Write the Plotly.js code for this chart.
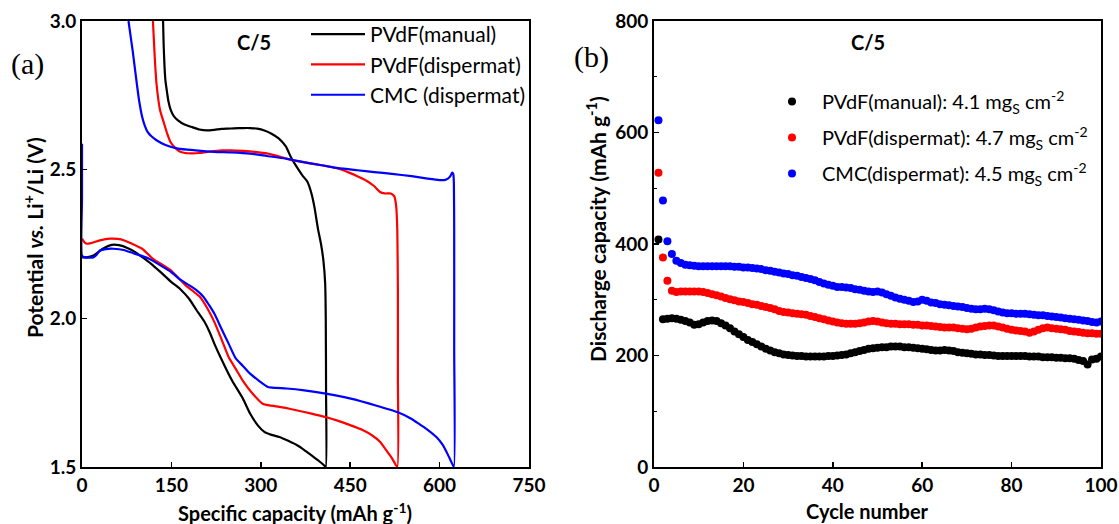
<!DOCTYPE html>
<html>
<head>
<meta charset="utf-8">
<script src="https://cdn.plot.ly/plotly-3.0.1.min.js"></script>
<style>
html,body{margin:0;padding:0;background:#fff;}
#chart{width:1119px;height:524px;}
</style>
</head>
<body>
<div id="chart"></div>
<script>
// ---------- Panel (a): voltage profiles ----------
const manualCap = [0,10,20,35,50,62,77,90,101,115,131,150,165,180,192,205,215,222,232,252,270,282,295,306,318,331,346,361,373,385,397,406,409,
  409.5,409,408,405,401,396,390,385,378,370,360,351,342,330,318,306,294,282,270,255,245,234,222,210,197,185,172,161,154,149,145,143,140,138.5,137,136];
const manualV = [2.205,2.206,2.212,2.234,2.247,2.246,2.236,2.222,2.206,2.185,2.157,2.122,2.098,2.065,2.028,1.99,1.95,1.915,1.871,1.79,1.73,1.68,1.64,1.618,1.608,1.601,1.588,1.573,1.557,1.539,1.521,1.506,1.5,
  1.75,2.0,2.117,2.195,2.25,2.3,2.374,2.42,2.46,2.48,2.51,2.54,2.578,2.605,2.621,2.632,2.638,2.640,2.640,2.639,2.638,2.637,2.634,2.632,2.635,2.643,2.652,2.666,2.68,2.70,2.73,2.756,2.8,2.845,2.92,3.0];

const dispCap = [0,4,8,15,30,47,60,71,85,101,119,135,150,174,186,198,210,222,234,246,258,270,285,303,315,331,350,373,390,409,430,451,470,487,500,511,520,529,
  530,530,529,527,524,518,508,500,490,478,462,448,432,418,402,380,354,330,312,290,270,250,234,215,197,185,173,163,155,148,143,137,131,125,122,119];
const dispV = [2.268,2.256,2.251,2.253,2.262,2.268,2.267,2.262,2.25,2.234,2.2,2.18,2.16,2.111,2.092,2.072,2.035,1.988,1.93,1.87,1.83,1.79,1.75,1.713,1.707,1.702,1.695,1.685,1.677,1.668,1.655,1.64,1.625,1.606,1.585,1.555,1.53,1.5,
  1.8,2.1,2.3,2.38,2.41,2.42,2.42,2.425,2.445,2.462,2.478,2.49,2.502,2.509,2.515,2.522,2.531,2.545,2.554,2.56,2.563,2.565,2.565,2.561,2.556,2.555,2.556,2.562,2.576,2.595,2.621,2.66,2.70,2.789,2.88,3.0];

const cmcCap = [0,0,0,5,19,25,30,40,53,70,86,100,113,130,150,165,180,192,204,213,222,234,246,258,270,282,297,312,325,343,373,409,451,493,529,550,565,580,595,605,613,619,624,
  624.5,624.5,624,623,621,618,614,608,600,580,553,520,490,462,430,402,370,342,310,282,250,222,190,161,140,125,116,110,105,101,96,92,85,78];
const cmcV = [2.587,2.4,2.21,2.205,2.205,2.215,2.228,2.233,2.234,2.23,2.219,2.21,2.2,2.18,2.155,2.13,2.111,2.095,2.072,2.045,2.016,1.965,1.915,1.865,1.84,1.814,1.79,1.769,1.766,1.764,1.758,1.747,1.73,1.707,1.685,1.665,1.646,1.625,1.6,1.575,1.545,1.52,1.5,
  1.9,2.3,2.45,2.485,2.49,2.478,2.47,2.465,2.465,2.47,2.478,2.486,2.492,2.498,2.505,2.515,2.526,2.537,2.546,2.554,2.558,2.56,2.565,2.571,2.583,2.599,2.613,2.627,2.65,2.677,2.73,2.789,2.9,3.0];

const seriesNamesA = ['PVdF(manual)','PVdF(dispermat)','CMC (dispermat)'];

// ---------- Panel (b): cycling ----------
const cycles = [1,2,3,4,5,6,7,8,9,10,11,12,13,14,15,16,17,18,19,20,21,22,23,24,25,26,27,28,29,30,31,32,33,34,35,36,37,38,39,40,41,42,43,44,45,46,47,48,49,50,
  51,52,53,54,55,56,57,58,59,60,61,62,63,64,65,66,67,68,69,70,71,72,73,74,75,76,77,78,79,80,81,82,83,84,85,86,87,88,89,90,91,92,93,94,95,96,97,98,99,100];
const manualQ = [408,265,266,267,266,264,262,259,255,256,259,262,263,262,258,254,249,243,238,233,228,224,220,216,212,209,206,204,202,201,200,199,199,198,198,198,198,198,199,199,
  200,201,202,204,206,208,210,212,213,214,215,215,216,216,216,215,215,214,213,212,211,210,209,209,210,209,208,206,205,204,203,202,202,201,201,200,199,199,199,199,
  199,199,199,198,198,198,197,197,197,196,196,195,195,194,192,190,184,193,194,198];
const dispQ = [528,376,334,316,314,315,315,315,315,315,314,312,310,308,306,303,301,299,297,296,294,292,291,289,287,285,283,280,278,277,276,275,274,273,271,269,267,265,263,261,
  259,258,257,257,257,258,259,261,262,261,259,258,257,257,256,256,256,255,255,254,254,253,252,251,250,250,250,249,248,247,248,250,252,253,254,254,252,250,248,246,
  245,244,243,241,243,246,249,250,249,248,247,246,244,243,242,241,240,240,239,239];
const cmcQ = [622,478,405,382,370,366,363,362,361,360,360,360,360,360,360,360,360,359,359,358,358,357,356,355,353,352,350,349,347,346,344,343,341,339,337,335,332,329,327,325,
  323,323,322,321,319,318,316,315,314,315,313,310,307,304,302,300,298,296,297,300,298,295,294,292,291,290,289,288,287,285,284,283,283,284,283,281,279,277,276,276,
  275,275,275,274,273,272,272,271,270,269,268,267,266,265,264,263,262,260,259,261];
const seriesNamesB = ['PVdF(manual): 4.1 mg<sub>S</sub> cm<sup>-2</sup>',
                      'PVdF(dispermat): 4.7 mg<sub>S</sub> cm<sup>-2</sup>',
                      'CMC(dispermat): 4.5 mg<sub>S</sub> cm<sup>-2</sup>'];

const tickLabelsA_x = ['0','150','300','450','600','750'];
const tickLabelsA_y = ['1.5','2.0','2.5','3.0'];
const tickLabelsB_x = ['0','20','40','60','80','100'];
const tickLabelsB_y = ['0','200','400','600','800'];

const colors = ['#000000','#ff0000','#0000ff'];

const W = 1119, H = 524;
const px = v => v / W;
const py = v => 1 - v / H;

const FONT = 'Lato, "Open Sans", sans-serif';
const tickFont = {family: FONT, size: 19, color: '#000'};
const bold = arr => arr.map(s => '<b>' + s + '</b>');

const traces = [];
[[manualCap, manualV],[dispCap, dispV],[cmcCap, cmcV]].forEach((d,i) => {
  traces.push({x: d[0], y: d[1], type: 'scatter', mode: 'lines', name: seriesNamesA[i],
    line: {color: colors[i], width: 2.2, shape: 'spline', smoothing: 0.5},
    xaxis: 'x', yaxis: 'y', legend: 'legend', legendgroup: 'a'+i});
});
[manualQ, dispQ, cmcQ].forEach((q,i) => {
  traces.push({x: cycles, y: q, type: 'scatter', mode: 'markers', name: seriesNamesB[i],
    marker: {color: colors[i], size: 8, line: {width: 0}},
    xaxis: 'x2', yaxis: 'y2', legend: 'legend2', legendgroup: 'b'+i});
});

const axisCommon = {
  showline: true, linecolor: '#000', linewidth: 2, mirror: true,
  ticks: 'inside', ticklen: 5, tickwidth: 1.5, tickcolor: '#000',
  showgrid: false, zeroline: false, tickfont: tickFont, fixedrange: true
};

const ann = (text, x, y, size, extra) => Object.assign({
  text: text, x: px(x), y: py(y), xref: 'paper', yref: 'paper', showarrow: false,
  xanchor: 'center', yanchor: 'middle', font: {family: FONT, size: size, color: '#000'}
}, extra || {});

const layout = {
  width: W, height: H,
  margin: {l: 0, r: 0, t: 0, b: 0},
  paper_bgcolor: '#fff', plot_bgcolor: '#fff',
  showlegend: true,
  xaxis: Object.assign({}, axisCommon, {domain: [px(82), px(529)], range: [0, 750],
    tickvals: [0,150,300,450,600,750], ticktext: bold(tickLabelsA_x), anchor: 'y'}),
  yaxis: Object.assign({}, axisCommon, {domain: [py(467), py(21)], range: [1.5, 3.0],
    tickvals: [1.5,2.0,2.5,3.0], ticktext: bold(tickLabelsA_y), anchor: 'x'}),
  xaxis2: Object.assign({}, axisCommon, {domain: [px(654), px(1101)], range: [0, 100],
    tickvals: [0,20,40,60,80,100], ticktext: bold(tickLabelsB_x), anchor: 'y2'}),
  yaxis2: Object.assign({}, axisCommon, {domain: [py(467), py(21)], range: [0, 800],
    tickvals: [0,200,400,600,800], ticktext: bold(tickLabelsB_y), anchor: 'x2',
    minor: {tickvals: [100,300,500,700], ticks: 'inside', ticklen: 3, tickwidth: 1, tickcolor: '#000'}}),
  legend: {x: px(306), y: py(14), xanchor: 'left', yanchor: 'top', bgcolor: 'rgba(0,0,0,0)',
    font: {family: FONT, size: 21, color: '#000'}, traceorder: 'grouped', tracegroupgap: 0, itemwidth: 54},
  legend2: {x: px(762), y: py(82), xanchor: 'left', yanchor: 'top', bgcolor: 'rgba(0,0,0,0)',
    font: {family: FONT, size: 20, color: '#000'}, traceorder: 'grouped', tracegroupgap: 7, itemwidth: 50},
  annotations: [
    ann('(a)', 27, 64, 30, {font: {family: '"Liberation Serif", "Times New Roman", serif', size: 30, color: '#000'}}),
    ann('(b)', 592, 57, 30, {font: {family: '"Liberation Serif", "Times New Roman", serif', size: 30, color: '#000'}}),
    ann('<b>C/5</b>', 254, 42, 20),
    ann('<b>C/5</b>', 868, 42, 20),
    ann('<b>Specific capacity (mAh g<sup>-1</sup>)</b>', 295, 512, 20),
    ann('<b>Cycle number</b>', 867, 511, 20),
    ann('<b>Potential <i>vs.</i> Li<sup>+</sup>/Li (V)</b>', 33, 238, 21, {textangle: -90}),
    ann('<b>Discharge capacity (mAh g<sup>-1</sup>)</b>', 596, 229, 21, {textangle: -90})
  ]
};

Plotly.newPlot('chart', traces, layout, {staticPlot: true, displayModeBar: false});
</script>
</body>
</html>
